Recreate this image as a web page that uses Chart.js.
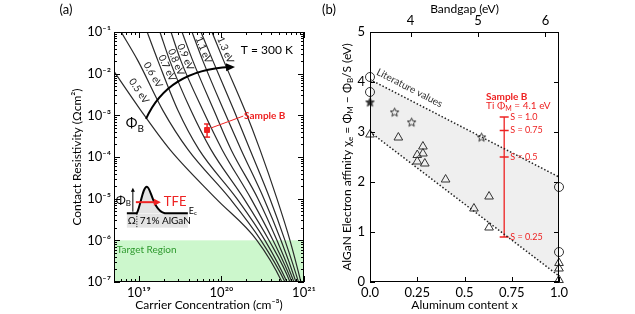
<!DOCTYPE html>
<html>
<head>
<meta charset="utf-8">
<script src="https://cdn.jsdelivr.net/npm/chart.js@4.4.1/dist/chart.umd.min.js"></script>
<style>
  body { margin: 0; background: #fff; }
  #wrap { position: relative; width: 635px; height: 314px; }
  canvas { position: absolute; top: 0; }
</style>
</head>
<body>
<div id="wrap">
  <canvas id="chartA" width="320" height="314" style="left:0;width:320px;height:314px"></canvas>
  <canvas id="chartB" width="315" height="314" style="left:320px;width:315px;height:314px"></canvas>
</div>
<script>
// ---------- panel (a) data: carrier concentration at fixed resistivity levels ----------
const rhoLevels = [1e-1, 2e-2, 1.3e-3, 1.5e-4, 1e-5, 1e-6, 1e-7, 5e-8];
const barrierNames = ['0.5 eV', '0.6 eV', '0.7 eV', '0.8 eV', '0.9 eV', '1.0 eV', '1.1 eV', '1.2 eV', '1.3 eV'];
const conc05 = [2.35e18, 4.11e18, 1.06e19, 2.38e19, 8.59e19, 2.69e20, 5.41e20, 6.22e20];
const conc06 = [6.1e18, 9.8e18, 1.96e19, 3.94e19, 1.27e20, 3.01e20, 5.88e20, 6.76e20];
const conc07 = [1.26e19, 1.71e19, 2.98e19, 5.35e19, 1.54e20, 3.37e20, 6.22e20, 7.14e20];
const conc08 = [1.80e19, 2.38e19, 4.28e19, 7.47e19, 1.87e20, 3.77e20, 6.76e20, 7.55e20];
const conc09 = [2.45e19, 3.24e19, 5.98e19, 1.02e20, 2.28e20, 4.21e20, 7.14e20, 8.0e20];
const conc10 = [3.33e19, 4.52e19, 8.13e19, 1.31e20, 2.77e20, 4.70e20, 7.55e20, 8.45e20];
const conc11 = [4.40e19, 5.98e19, 1.07e20, 1.73e20, 3.27e20, 5.26e20, 8.0e20, 8.93e20];
const conc12 = [5.65e19, 7.91e19, 1.42e20, 2.22e20, 3.87e20, 5.88e20, 8.57e20, 9.44e20];
const conc13 = [7.68e19, 1.07e20, 1.93e20, 2.93e20, 4.70e20, 6.76e20, 9.18e20, 9.98e20];
const curveConc = [conc05, conc06, conc07, conc08, conc09, conc10, conc11, conc12, conc13];

const curveLabelText = ['0.5 eV', '0.6 eV', '0.7 eV', '0.8 eV', '0.9 eV', '1.1 eV', '1.3 eV'];
const curveLabelConc = [1.0e19, 1.48e19, 2.19e19, 2.82e19, 3.67e19, 6.08e19, 1.12e20];
const curveLabelRho = [3.84e-3, 9.3e-3, 1.37e-2, 1.9e-2, 2.51e-2, 3.7e-2, 3.7e-2];

const sampleConc = [6.7e19];
const sampleRho = [4.45e-4];
const sampleErr = [3.0e-4, 6.2e-4];
const targetRho = [1e-7, 1e-6];

const concTicks = [1e19, 1e20, 1e21];
const rhoTicks = [1e-7, 1e-6, 1e-5, 1e-4, 1e-3, 1e-2, 1e-1];

// ---------- panel (b) data ----------
const circleAl = [0, 0, 1, 1];
const circleChi = [4.1, 3.8, 1.9, 0.6];
const starAl = [0, 0.13, 0.22, 0.59];
const starChi = [3.6, 3.4, 3.2, 2.9];
const triAl = [0, 0.15, 0.28, 0.25, 0.28, 0.25, 0.29, 0.40, 0.55, 0.63, 0.63, 1, 1, 1];
const triChi = [2.95, 2.89, 2.71, 2.54, 2.57, 2.41, 2.37, 2.05, 1.47, 1.71, 1.09, 0.38, 0.27, 0.04];
const upperAl = [0, 1];
const upperChi = [4.05, 2.1];
const lowerAl = [0, 1];
const lowerChi = [3.0, 0.12];
const sampleBAl = 0.71;
const sLevels = [3.3, 3.03, 2.5, 0.9];
const sLabels = ['S = 1.0', 'S = 0.75', 'S = 0.5', 'S = 0.25'];
const alTicks = [0, 0.25, 0.5, 0.75, 1];
const alTickLabels = ['0.0', '0.25', '0.5', '0.75', '1.0'];
const gapRange = [3.4, 6.2];
const gapTicks = [4, 5, 6];
const chiTicks = [0, 1, 2, 3, 4, 5];

const FONT = 'Lato, "Open Sans", "DejaVu Sans", sans-serif';
const RED = '#ee2222';
const SUP = {'-': '⁻', '0': '⁰', '1': '¹', '2': '²', '3': '³', '4': '⁴', '5': '⁵', '6': '⁶', '7': '⁷', '8': '⁸', '9': '⁹'};

function pow10Label(v) {
    const e = Math.round(Math.log10(v));
    return '10' + String(e).split('').map(c => SUP[c]).join('');
}

// text with sub/superscripts: parts = [[text, ''|'sub'|'sup'], ...]
function richText(ctx, parts, x, y, size, align, color, weight) {
    ctx.save();
    ctx.fillStyle = color;
    ctx.textBaseline = 'middle';
    ctx.textAlign = 'left';
    const fontFor = k => `${weight || 'normal'} ${k ? Math.round(size * 0.7) : size}px ${FONT}`;
    let w = 0;
    parts.forEach(([t, k]) => { ctx.font = fontFor(k); w += ctx.measureText(t).width; });
    let cx = align === 'center' ? x - w / 2 : align === 'right' ? x - w : x;
    parts.forEach(([t, k]) => {
        ctx.font = fontFor(k);
        const dy = k === 'sub' ? size * 0.32 : k === 'sup' ? -size * 0.35 : 0;
        ctx.fillText(t, cx, y + dy);
        cx += ctx.measureText(t).width;
    });
    ctx.restore();
}

function arrowHead(ctx, x, y, ang, len, half) {
    ctx.beginPath();
    ctx.moveTo(x, y);
    ctx.lineTo(x - len * Math.cos(ang) + half * Math.sin(ang), y - len * Math.sin(ang) - half * Math.cos(ang));
    ctx.lineTo(x - len * Math.cos(ang) - half * Math.sin(ang), y - len * Math.sin(ang) + half * Math.cos(ang));
    ctx.closePath();
    ctx.fill();
}

function logTicks(lo, hi) {
    const out = [];
    for (let d = Math.floor(Math.log10(lo)); d <= Math.ceil(Math.log10(hi)); d++) {
        for (let k = 1; k <= 9; k++) {
            const v = k * Math.pow(10, d);
            if (v >= lo * 0.999 && v <= hi * 1.001) out.push({ v: v, major: k === 1 });
        }
    }
    return out;
}

function frame(ctx, a) {
    ctx.save();
    ctx.strokeStyle = '#000';
    ctx.lineWidth = 1;
    ctx.strokeRect(a.left + 0.5, a.top + 0.5, a.right - a.left - 1, a.bottom - a.top - 1);
    ctx.restore();
}

// ---------- panel (a) ----------
const panelA = {
    id: 'panelA',
    beforeDatasetsDraw(chart) {
        const { ctx, chartArea: a, scales: { x, y } } = chart;
        const y1 = y.getPixelForValue(targetRho[1]);
        const y0 = y.getPixelForValue(targetRho[0]);
        ctx.save();
        ctx.fillStyle = '#ccf7cc';
        ctx.fillRect(a.left, y1, a.right - a.left, y0 - y1);
        ctx.fillStyle = '#2f9a2f';
        ctx.font = `10px ${FONT}`;
        ctx.textBaseline = 'middle';
        ctx.fillText('Target Region', x.getPixelForValue(5.4e18), y.getPixelForValue(5.9e-7));
        ctx.restore();
    },
    afterDatasetsDraw(chart) {
        const { ctx, scales: { x, y } } = chart;
        const px = v => x.getPixelForValue(v), py = v => y.getPixelForValue(v);

        // barrier labels along the curves
        const angles = [56, 60, 65, 67, 67, 68, 67];
        ctx.save();
        ctx.fillStyle = '#222';
        ctx.font = `10px ${FONT}`;
        ctx.textAlign = 'center';
        ctx.textBaseline = 'middle';
        curveLabelText.forEach((t, i) => {
            ctx.save();
            ctx.translate(px(curveLabelConc[i]), py(curveLabelRho[i]));
            ctx.rotate(angles[i] * Math.PI / 180);
            ctx.fillText(t, 0, 0);
            ctx.restore();
        });
        ctx.restore();

        // T = 300 K
        ctx.save();
        ctx.fillStyle = '#000';
        ctx.font = `12px ${FONT}`;
        ctx.textAlign = 'right';
        ctx.textBaseline = 'middle';
        ctx.fillText('T = 300 K', px(7.35e20), py(3.7e-2));
        ctx.restore();

        // phi_B arrow across the curves
        const p0 = [px(1.22e19), py(8.2e-4)], c = [px(2.25e19), py(1.22e-2)], p2 = [px(1.46e20), py(1.45e-2)];
        ctx.save();
        ctx.strokeStyle = '#000';
        ctx.fillStyle = '#000';
        ctx.lineWidth = 2;
        ctx.beginPath();
        ctx.moveTo(p0[0], p0[1]);
        ctx.quadraticCurveTo(c[0], c[1], p2[0] - 5, p2[1]);
        ctx.stroke();
        arrowHead(ctx, p2[0], p2[1], Math.atan2(p2[1] - c[1], p2[0] - c[0]), 9, 4);
        ctx.restore();
        richText(ctx, [['Φ', ''], ['B', 'sub']], px(1.15e19), py(6.2e-4), 14, 'right', '#000');

        // sample B callout
        ctx.save();
        ctx.strokeStyle = RED;
        ctx.lineWidth = 1;
        ctx.beginPath();
        ctx.moveTo(px(7.47e19), py(4.97e-4));
        ctx.lineTo(px(1.84e20), py(9.6e-4));
        ctx.stroke();
        ctx.restore();
        richText(ctx, [['Sample B', '']], px(1.88e20), py(9.6e-4), 10, 'left', RED, 'bold');

        // inset band diagram, anchored to (1e19, 1e-5)
        const ax = px(1e19), ay = py(1e-5);
        ctx.save();
        ctx.translate(ax, ay);
        ctx.fillStyle = '#e4e4e4';
        ctx.fillRect(-12, 15, 61, 14);
        ctx.beginPath();
        ctx.moveTo(-2, 14.5);
        ctx.bezierCurveTo(2, 6, 4, -12, 8, -12);
        ctx.bezierCurveTo(12, -12, 14, 12, 26, 14.5);
        ctx.closePath();
        ctx.fill();
        ctx.strokeStyle = '#000';
        ctx.lineWidth = 2;
        ctx.beginPath();
        ctx.moveTo(-12, 14.5);
        ctx.lineTo(-2, 14.5);
        ctx.bezierCurveTo(2, 6, 4, -12, 8, -12);
        ctx.bezierCurveTo(12, -12, 14, 12, 26, 14.5);
        ctx.lineTo(49, 14.5);
        ctx.stroke();
        // dotted interface
        ctx.lineWidth = 1;
        ctx.setLineDash([1, 1.5]);
        ctx.beginPath();
        ctx.moveTo(-2, 15);
        ctx.lineTo(-2, 29);
        ctx.stroke();
        ctx.setLineDash([]);
        // barrier height arrow
        ctx.beginPath();
        ctx.moveTo(-6, -8);
        ctx.lineTo(-6, 13);
        ctx.stroke();
        ctx.fillStyle = '#000';
        arrowHead(ctx, -6, -11, -Math.PI / 2, 4, 2);
        // TFE arrow
        ctx.strokeStyle = RED;
        ctx.fillStyle = RED;
        ctx.lineWidth = 2;
        ctx.beginPath();
        ctx.moveTo(-3, 3.5);
        ctx.lineTo(17, 3.5);
        ctx.stroke();
        arrowHead(ctx, 22, 3.5, 0, 7, 3.5);
        ctx.restore();
        richText(ctx, [['Φ', ''], ['B', 'sub']], ax - 8, ay + 1, 12, 'right', '#000');
        richText(ctx, [['TFE', '']], ax + 25, ay + 3.5, 13, 'left', RED);
        richText(ctx, [['E', ''], ['c', 'sub']], ax + 50, ay + 12, 9, 'left', '#000');
        richText(ctx, [['Ω', '']], ax - 7, ay + 22.5, 10, 'center', '#000');
        richText(ctx, [['71% AlGaN', '']], ax + 1, ay + 22.5, 10, 'left', '#000');
    },
    afterDraw(chart) {
        const { ctx, chartArea: a, scales: { x, y } } = chart;
        frame(ctx, a);
        ctx.save();
        ctx.strokeStyle = '#000';
        ctx.lineWidth = 1;
        ctx.beginPath();
        logTicks(y.min, y.max).forEach(t => {
            const p = Math.round(y.getPixelForValue(t.v)) + 0.5, len = t.major ? 6 : 3;
            ctx.moveTo(a.left, p); ctx.lineTo(a.left + len, p);
            ctx.moveTo(a.right, p); ctx.lineTo(a.right - len, p);
        });
        logTicks(x.min, x.max).forEach(t => {
            const p = Math.round(x.getPixelForValue(t.v)) + 0.5, len = t.major ? 6 : 3;
            ctx.moveTo(p, a.bottom); ctx.lineTo(p, a.bottom - len);
            ctx.moveTo(p, a.top); ctx.lineTo(p, a.top + len);
        });
        ctx.stroke();
        ctx.restore();
        richText(ctx, [['(a)', '']], 66, 10, 13, 'center', '#000');
    }
};

const datasetsA = curveConc.map((arr, i) => ({
    label: barrierNames[i],
    data: arr.map((n, j) => ({ x: n, y: rhoLevels[j] })),
    showLine: true,
    borderColor: '#2a2a2a',
    borderWidth: 1.2,
    pointRadius: 0,
    cubicInterpolationMode: 'monotone'
}));
datasetsA.push({
    label: 'Sample B error',
    data: sampleErr.map(r => ({ x: sampleConc[0], y: r })),
    showLine: true,
    borderColor: RED,
    borderWidth: 1.5,
    pointStyle: 'line',
    pointRadius: 3,
    pointBorderColor: RED,
    pointBorderWidth: 1.5
});
datasetsA.push({
    label: 'Sample B',
    data: sampleConc.map((n, i) => ({ x: n, y: sampleRho[i] })),
    pointStyle: 'rect',
    pointRadius: 3.5,
    backgroundColor: RED,
    borderColor: RED
});

new Chart(document.getElementById('chartA'), {
    type: 'scatter',
    data: { datasets: datasetsA },
    options: {
        responsive: false,
        animation: false,
        devicePixelRatio: 1,
        layout: { padding: { left: 66, right: 16, top: 32, bottom: 0 } },
        plugins: { legend: { display: false }, tooltip: { enabled: false } },
        scales: {
            x: {
                type: 'logarithmic',
                min: 5e18,
                max: 1e21,
                afterBuildTicks: s => { s.ticks = concTicks.map(v => ({ value: v })); },
                afterFit: s => { s.height = 32; },
                grid: { display: false, drawTicks: false },
                border: { display: false },
                ticks: { callback: v => pow10Label(v), autoSkip: false, maxRotation: 0, padding: 3, color: '#000', font: { family: FONT, size: 13 } },
                title: { display: true, text: 'Carrier Concentration (cm⁻³)', color: '#000', font: { family: FONT, size: 12 }, padding: { top: 0, bottom: 2 } }
            },
            y: {
                type: 'logarithmic',
                min: 1e-7,
                max: 1e-1,
                afterBuildTicks: s => { s.ticks = rhoTicks.map(v => ({ value: v })); },
                afterFit: s => { s.width = 48; },
                grid: { display: false, drawTicks: false },
                border: { display: false },
                ticks: { callback: v => pow10Label(v), autoSkip: false, padding: 3, color: '#000', font: { family: FONT, size: 13 } },
                title: { display: true, text: 'Contact Resistivity (Ωcm²)', color: '#000', font: { family: FONT, size: 12 }, padding: { top: 4, bottom: 4 } }
            }
        }
    },
    plugins: [panelA]
});

// ---------- panel (b) ----------
function makeStar(size, fill) {
    const c = document.createElement('canvas');
    c.width = size; c.height = size;
    const g = c.getContext('2d');
    const cx = size / 2, cy = size / 2 + 0.5, R = size / 2 - 1, r = R * 0.45;
    g.beginPath();
    for (let i = 0; i < 10; i++) {
        const ang = -Math.PI / 2 + i * Math.PI / 5, rr = i % 2 ? r : R;
        g.lineTo(cx + rr * Math.cos(ang), cy + rr * Math.sin(ang));
    }
    g.closePath();
    if (fill) { g.fillStyle = fill; g.fill(); }
    g.strokeStyle = '#333';
    g.lineWidth = 1;
    g.stroke();
    return c;
}
const starOpen = makeStar(11, null);
const starFilled = makeStar(11, '#333');

const panelB = {
    id: 'panelB',
    afterDatasetsDraw(chart) {
        const { ctx, scales: { x, y } } = chart;
        const px = v => x.getPixelForValue(v), py = v => y.getPixelForValue(v);
        // literature label along the upper bound
        ctx.save();
        ctx.translate(px(0.209), py(3.88));
        ctx.rotate(27.3 * Math.PI / 180);
        ctx.fillStyle = '#333';
        ctx.font = `10px ${FONT}`;
        ctx.textAlign = 'center';
        ctx.textBaseline = 'middle';
        ctx.fillText('Literature values', 0, 0);
        ctx.restore();
        richText(ctx, [['Sample B', '']], px(0.614), py(3.71), 10, 'left', RED, 'bold');
        richText(ctx, [['Ti Φ', ''], ['M', 'sub'], [' = 4.1 eV', '']], px(0.614), py(3.52), 10, 'left', RED);
        sLabels.forEach((t, i) => {
            richText(ctx, [[t, '']], px(sampleBAl) + 6, py(sLevels[i]), 9, 'left', RED);
        });
    },
    afterDraw(chart) {
        const { ctx, chartArea: a, scales: { x, y, x2 } } = chart;
        frame(ctx, a);
        ctx.save();
        ctx.strokeStyle = '#000';
        ctx.lineWidth = 1;
        ctx.beginPath();
        chiTicks.forEach(v => {
            const p = Math.round(y.getPixelForValue(v)) + 0.5;
            ctx.moveTo(a.left, p); ctx.lineTo(a.left + 5, p);
            ctx.moveTo(a.right, p); ctx.lineTo(a.right - 5, p);
        });
        alTicks.forEach(v => {
            const p = Math.round(x.getPixelForValue(v)) + 0.5;
            ctx.moveTo(p, a.bottom); ctx.lineTo(p, a.bottom - 5);
        });
        gapTicks.forEach(v => {
            const p = Math.round(x2.getPixelForValue(v)) + 0.5;
            ctx.moveTo(p, a.top); ctx.lineTo(p, a.top + 5);
        });
        ctx.stroke();
        ctx.restore();
        // y axis title with subscripts
        ctx.save();
        ctx.translate(27, (a.top + a.bottom) / 2);
        ctx.rotate(-Math.PI / 2);
        richText(ctx, [['AlGaN Electron affinity χ', ''], ['e', 'sub'], [' = Φ', ''], ['M', 'sub'], [' − Φ', ''], ['B', 'sub'], ['/S (eV)', '']], 0, 0, 12, 'center', '#000');
        ctx.restore();
        richText(ctx, [['(b)', '']], 9, 10, 13, 'center', '#000');
    }
};

const pts = (xs, ys) => xs.map((v, i) => ({ x: v, y: ys[i] }));

new Chart(document.getElementById('chartB'), {
    type: 'scatter',
    data: {
        datasets: [
            {
                label: 'upper',
                data: pts(upperAl, upperChi),
                showLine: true, pointRadius: 0,
                borderColor: '#222', borderWidth: 1.5, borderDash: [1.5, 2]
            },
            {
                label: 'lower',
                data: pts(lowerAl, lowerChi),
                showLine: true, pointRadius: 0,
                borderColor: '#222', borderWidth: 1.5, borderDash: [1.5, 2],
                fill: '-1', backgroundColor: '#efefef'
            },
            {
                label: 'Sample B range',
                data: pts([sampleBAl, sampleBAl], [sLevels[3], sLevels[0]]),
                showLine: true, pointRadius: 0,
                borderColor: RED, borderWidth: 1.3
            },
            {
                label: 'S caps',
                data: pts(sLevels.map(() => sampleBAl), sLevels),
                pointStyle: 'line', pointRadius: 4.5,
                borderColor: RED, pointBorderWidth: 1.5
            },
            {
                label: 'circles',
                data: pts(circleAl, circleChi),
                pointStyle: 'circle', pointRadius: 4.5,
                borderColor: '#333', backgroundColor: 'rgba(0,0,0,0)', pointBorderWidth: 1,
                clip: false
            },
            {
                label: 'stars',
                data: pts(starAl, starChi),
                pointStyle: [starFilled, starOpen, starOpen, starOpen],
                clip: false
            },
            {
                label: 'triangles',
                data: pts(triAl, triChi),
                pointStyle: 'triangle', pointRadius: 5,
                borderColor: '#333', backgroundColor: 'rgba(0,0,0,0)', pointBorderWidth: 1,
                clip: false
            }
        ]
    },
    options: {
        responsive: false,
        animation: false,
        devicePixelRatio: 1,
        layout: { padding: { left: 0, right: 76, top: 0, bottom: 0 } },
        plugins: {
            legend: { display: false },
            tooltip: { enabled: false },
            filler: { drawTime: 'beforeDatasetsDraw' }
        },
        scales: {
            x: {
                type: 'linear', min: 0, max: 1,
                afterBuildTicks: s => { s.ticks = alTicks.map(v => ({ value: v })); },
                afterFit: s => { s.height = 32; },
                grid: { display: false, drawTicks: false },
                border: { display: false },
                ticks: { callback: (v, i) => alTickLabels[i], autoSkip: false, maxRotation: 0, padding: 3, color: '#000', font: { family: FONT, size: 13 } },
                title: { display: true, text: 'Aluminum content x', color: '#000', font: { family: FONT, size: 12 }, padding: { top: 0, bottom: 2 } }
            },
            x2: {
                type: 'linear', position: 'top', min: gapRange[0], max: gapRange[1],
                afterBuildTicks: s => { s.ticks = gapTicks.map(v => ({ value: v })); },
                afterFit: s => { s.height = 32; },
                grid: { display: false, drawTicks: false },
                border: { display: false },
                ticks: { autoSkip: false, maxRotation: 0, padding: 3, color: '#000', font: { family: FONT, size: 13 } },
                title: { display: true, text: 'Bandgap (eV)', color: '#000', font: { family: FONT, size: 12 }, padding: { top: 2, bottom: 0 } }
            },
            y: {
                type: 'linear', min: 0, max: 5,
                afterBuildTicks: s => { s.ticks = chiTicks.map(v => ({ value: v })); },
                afterFit: s => { s.width = 50; },
                grid: { display: false, drawTicks: false },
                border: { display: false },
                ticks: { autoSkip: false, padding: 5, color: '#000', font: { family: FONT, size: 13 } }
            }
        }
    },
    plugins: [panelB]
});
</script>
</body>
</html>
